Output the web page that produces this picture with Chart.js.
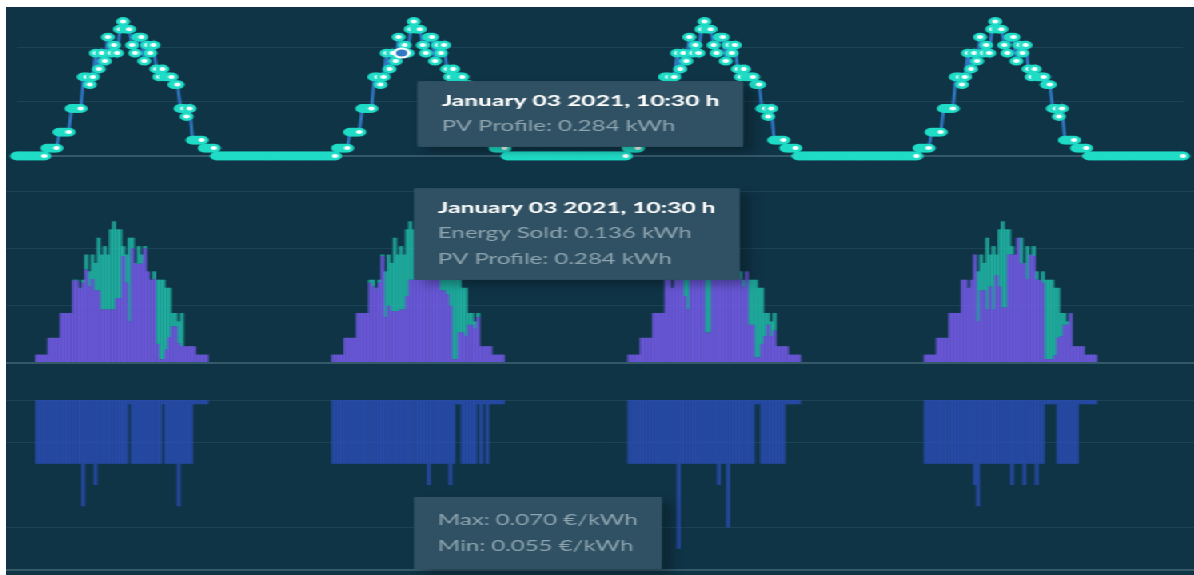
<!DOCTYPE html>
<html>
<head>
<meta charset="utf-8">
<script src="https://cdn.jsdelivr.net/npm/chart.js@4.4.1/dist/chart.umd.min.js"></script>
<style>
    html, body { margin: 0; background: #ffffff; }
    #board { position: absolute; left: 6px; top: 7px; width: 1188px; height: 568px; background: #0f3446; overflow: hidden; }
    /* charts are drawn narrow and stretched sideways to fill the board */
    #inner { position: absolute; left: 0; top: 0; width: 743px; height: 568px; transform: scaleX(1.599); transform-origin: 0 0; }
    canvas { position: absolute; left: 0; }
</style>
</head>
<body>
<div id="board">
    <div id="inner">
        <canvas id="pvChart" width="743" height="159" style="top:0"></canvas>
        <canvas id="soldChart" width="743" height="202" style="top:159px"></canvas>
        <canvas id="priceChart" width="743" height="207" style="top:361px"></canvas>
    </div>
</div>
<script>
const gridLine = '#1b4356';
const baseLine = '#36596a';
const tipBg = '#2f5163';

// 15 min slots, Jan 02 2021 02:45 .. Jan 06 2021 03:00
const slotCount = 386;
const sunriseSlot = 9; // 05:15, counted from 03:00

// PV forecast, 05:15 .. 19:00, same profile every day
const pvDaylight = [
    0.022, 0.022, 0.022, 0.022, 0.066, 0.066, 0.066, 0.066, 0.131, 0.131, 0.131, 0.131,
    0.218, 0.218, 0.197, 0.218, 0.284, 0.240, 0.284, 0.262, 0.328, 0.284, 0.306, 0.284,
    0.350, 0.371, 0.350, 0.350, 0.306, 0.284, 0.328, 0.328, 0.262, 0.306, 0.284, 0.306,
    0.240, 0.218, 0.240, 0.218, 0.218, 0.218, 0.197, 0.197, 0.131, 0.131, 0.109, 0.131,
    0.044, 0.044, 0.044, 0.044, 0.022, 0.022, 0.022, 0.022
];

const soldDay1 = [
    0.022, 0.022, 0.022, 0.022, 0.066, 0.066, 0.066, 0.066, 0.131, 0.131, 0.131, 0.131,
    0.216, 0.216, 0.195, 0.210, 0.245, 0.200, 0.220, 0.190, 0.190, 0.140, 0.140, 0.140,
    0.140, 0.140, 0.170, 0.170, 0.280, 0.210, 0.110, 0.300, 0.260, 0.260, 0.260, 0.300,
    0.240, 0.218, 0.220, 0.050, 0.010, 0.010, 0.035, 0.068, 0.096, 0.096, 0.052, 0.044,
    0.044, 0.044, 0.044, 0.044, 0.022, 0.022, 0.022, 0.022
];
const soldDay2 = [
    0.022, 0.022, 0.022, 0.022, 0.066, 0.066, 0.066, 0.066, 0.131, 0.131, 0.131, 0.131,
    0.210, 0.200, 0.195, 0.210, 0.280, 0.120, 0.150, 0.136, 0.136, 0.136, 0.140, 0.140,
    0.175, 0.218, 0.218, 0.218, 0.280, 0.260, 0.300, 0.300, 0.250, 0.280, 0.280, 0.190,
    0.190, 0.180, 0.150, 0.010, 0.010, 0.080, 0.080, 0.070, 0.100, 0.100, 0.090, 0.120,
    0.044, 0.044, 0.044, 0.044, 0.022, 0.022, 0.022, 0.022
];
const soldDay3 = [
    0.022, 0.022, 0.022, 0.022, 0.066, 0.066, 0.066, 0.066, 0.131, 0.131, 0.131, 0.131,
    0.218, 0.218, 0.197, 0.218, 0.260, 0.240, 0.175, 0.140, 0.300, 0.280, 0.300, 0.280,
    0.320, 0.080, 0.080, 0.330, 0.300, 0.280, 0.320, 0.320, 0.260, 0.300, 0.280, 0.270,
    0.220, 0.200, 0.240, 0.100, 0.100, 0.015, 0.015, 0.050, 0.070, 0.100, 0.070, 0.085,
    0.044, 0.044, 0.044, 0.044, 0.022, 0.022, 0.022, 0.022
];
const soldDay4 = [
    0.022, 0.022, 0.022, 0.022, 0.066, 0.066, 0.066, 0.066, 0.131, 0.131, 0.131, 0.131,
    0.218, 0.218, 0.197, 0.218, 0.284, 0.110, 0.190, 0.190, 0.140, 0.200, 0.140, 0.230,
    0.200, 0.145, 0.145, 0.284, 0.284, 0.284, 0.328, 0.260, 0.262, 0.220, 0.284, 0.280,
    0.218, 0.218, 0.210, 0.010, 0.010, 0.010, 0.020, 0.066, 0.070, 0.100, 0.100, 0.130,
    0.044, 0.044, 0.044, 0.044, 0.022, 0.022, 0.022, 0.022
];

// sell price band: max is flat, min per slot
const priceMax = 0.070;
const minDay1 = [
    0.055, 0.055, 0.055, 0.055, 0.055, 0.055, 0.055, 0.055, 0.055, 0.055, 0.055, 0.055,
    0.055, 0.055, 0.055, 0.045, 0.055, 0.055, 0.055, 0.050, 0.055, 0.055, 0.055, 0.055,
    0.055, 0.055, 0.055, 0.055, 0.055, 0.055, 0.069, 0.055, 0.055, 0.055, 0.055, 0.055,
    0.055, 0.055, 0.055, 0.055, 0.055, 0.069, 0.055, 0.055, 0.055, 0.055, 0.045, 0.055,
    0.055, 0.055, 0.055, 0.069, 0.069, 0.069, 0.069, 0.069
];
const minDay2 = [
    0.055, 0.055, 0.055, 0.055, 0.055, 0.055, 0.055, 0.055, 0.055, 0.055, 0.055, 0.055,
    0.055, 0.055, 0.055, 0.055, 0.055, 0.055, 0.055, 0.055, 0.055, 0.055, 0.055, 0.055,
    0.055, 0.055, 0.055, 0.055, 0.055, 0.055, 0.055, 0.050, 0.055, 0.055, 0.055, 0.055,
    0.055, 0.055, 0.050, 0.055, 0.069, 0.069, 0.055, 0.055, 0.055, 0.055, 0.055, 0.069,
    0.055, 0.069, 0.055, 0.069, 0.069, 0.069, 0.069, 0.069
];
const minDay3 = [
    0.055, 0.055, 0.055, 0.055, 0.055, 0.055, 0.055, 0.055, 0.055, 0.055, 0.055, 0.055,
    0.055, 0.055, 0.055, 0.055, 0.035, 0.055, 0.055, 0.055, 0.055, 0.055, 0.055, 0.055,
    0.055, 0.055, 0.055, 0.055, 0.055, 0.050, 0.055, 0.055, 0.040, 0.055, 0.055, 0.055,
    0.055, 0.055, 0.055, 0.055, 0.055, 0.069, 0.069, 0.055, 0.055, 0.055, 0.055, 0.055,
    0.055, 0.055, 0.055, 0.069, 0.069, 0.069, 0.069, 0.069
];
const minDay4 = [
    0.055, 0.055, 0.055, 0.055, 0.055, 0.055, 0.055, 0.055, 0.055, 0.055, 0.055, 0.055,
    0.055, 0.055, 0.055, 0.055, 0.050, 0.045, 0.055, 0.055, 0.055, 0.055, 0.055, 0.055,
    0.055, 0.055, 0.055, 0.055, 0.050, 0.055, 0.055, 0.055, 0.050, 0.055, 0.055, 0.055,
    0.050, 0.055, 0.055, 0.069, 0.069, 0.069, 0.069, 0.055, 0.055, 0.055, 0.055, 0.055,
    0.055, 0.055, 0.069, 0.069, 0.069, 0.069, 0.069, 0.069
];

const pvTicks = [0, 0.15, 0.30];
const soldTicks = [0, 0.15, 0.30, 0.45];
const priceTicks = [0.03, 0.04, 0.06, 0.07];

const labels = [];
for (let k = 0; k < slotCount; k++) {
    const m = 2 * 60 + 45 + 15 * k;
    const day = 2 + Math.floor(m / 1440);
    const t = m % 1440;
    const hh = String(Math.floor(t / 60)).padStart(2, '0');
    const mm = String(t % 60).padStart(2, '0');
    labels.push('January ' + String(day).padStart(2, '0') + ' 2021, ' + hh + ':' + mm + ' h');
}

// place a daylight array into the 4-day slot list
function slots(days, night) {
    const out = [night];
    days.forEach(vals => {
        for (let i = 0; i < 96; i++) {
            const j = i - sunriseSlot;
            out.push(j >= 0 && j < vals.length ? vals[j] : night);
        }
    });
    out.push(night);
    return out;
}

const pv = slots([pvDaylight, pvDaylight, pvDaylight, pvDaylight], 0);
const sold = slots([soldDay1, soldDay2, soldDay3, soldDay4], 0);
const pvRest = pv.map((v, i) => Math.max(0, +(v - sold[i]).toFixed(3)));
const priceLow = slots([minDay1, minDay2, minDay3, minDay4], null);
const priceBand = priceLow.map(v => v === null ? null : [v, priceMax]);

Chart.defaults.font.family = 'Lato, "Noto Sans", sans-serif';
Chart.defaults.animation = false;

const tipY = { pvChart: 107, soldChart: 68, priceChart: 165 };
Chart.Tooltip.positioners.beside = function (items) {
    if (!items.length) return false;
    return { x: items[0].element.x, y: tipY[this.chart.canvas.id], xAlign: 'left', yAlign: 'center' };
};

const tipShadow = {
    id: 'tipShadow',
    beforeTooltipDraw(chart, args) {
        const t = args.tooltip;
        if (!t.opacity) return;
        const c = chart.ctx;
        c.save();
        c.shadowColor = 'rgba(0,0,0,0.28)';
        c.shadowBlur = 8;
        c.shadowOffsetX = 6;
        c.shadowOffsetY = 5;
        c.fillStyle = tipBg;
        c.fillRect(t.x, t.y, t.width, t.height);
        c.restore();
    }
};

function tip(extra) {
    return Object.assign({
        position: 'beside',
        displayColors: false,
        backgroundColor: tipBg,
        titleColor: '#ffffff',
        bodyColor: '#8ea4af',
        titleFont: { family: 'Lato', size: 15.4, weight: 'bold' },
        bodyFont: { family: 'Lato', size: 15 },
        titleMarginBottom: 6,
        bodySpacing: 8,
        padding: { top: 11, bottom: 12, left: 15, right: 15 },
        cornerRadius: 3,
        caretSize: 0,
        caretPadding: 10
    }, extra);
}

function yAxis(min, max, ticks, stacked) {
    return {
        min, max, stacked: !!stacked,
        afterBuildTicks: s => { s.ticks = ticks.map(v => ({ value: v })); },
        ticks: { display: false },
        border: { display: false },
        grid: {
            drawTicks: false,
            color: c => c.index === 0 ? baseLine : gridLine,
            lineWidth: c => c.index === 0 ? 2 : 1
        }
    };
}

const xAxis = { display: false, offset: false, stacked: true };
const kwh = v => v.toFixed(3) + ' kWh';
const purple = 'rgba(128,96,250,0.68)';
const teal = 'rgba(36,200,178,0.68)';
const blue = 'rgba(46,80,192,0.66)';

const pvChart = new Chart(document.getElementById('pvChart'), {
    type: 'line',
    data: {
        labels,
        datasets: [{
            label: 'PV Profile', data: pv,
            borderColor: '#2f78c4', borderWidth: 2, tension: 0,
            pointRadius: 3.2, pointBorderWidth: 2.4,
            pointBackgroundColor: '#ffffff', pointBorderColor: '#1fdcc6',
            pointHoverRadius: 4.5, pointHoverBorderWidth: 2,
            pointHoverBackgroundColor: '#2f78c4', pointHoverBorderColor: '#ffffff',
            clip: false
        }]
    },
    options: {
        responsive: false,
        layout: { padding: { top: 0, bottom: 10 } },
        plugins: {
            legend: { display: false },
            tooltip: tip({ callbacks: { label: c => 'PV Profile: ' + kwh(c.parsed.y) } })
        },
        scales: { x: xAxis, y: yAxis(0, 0.392, pvTicks) }
    },
    plugins: [tipShadow]
});

const soldChart = new Chart(document.getElementById('soldChart'), {
    type: 'bar',
    data: {
        labels,
        datasets: [
            { label: 'Energy Sold', data: sold, backgroundColor: purple, hoverBackgroundColor: purple, barPercentage: 1.4, categoryPercentage: 1 },
            { label: 'PV Profile', data: pvRest, backgroundColor: teal, hoverBackgroundColor: teal, barPercentage: 1.4, categoryPercentage: 1 }
        ]
    },
    options: {
        responsive: false,
        layout: { padding: { top: 6, bottom: 5 } },
        plugins: {
            legend: { display: false },
            tooltip: tip({
                mode: 'index', intersect: false,
                callbacks: {
                    label: c => c.datasetIndex === 0
                        ? 'Energy Sold: ' + kwh(sold[c.dataIndex])
                        : 'PV Profile: ' + kwh(pv[c.dataIndex])
                }
            })
        },
        scales: { x: xAxis, y: yAxis(0, 0.5, soldTicks, true) }
    },
    plugins: [tipShadow]
});

const priceChart = new Chart(document.getElementById('priceChart'), {
    type: 'bar',
    data: {
        labels,
        datasets: [
            { label: 'Price', data: priceBand, backgroundColor: blue, hoverBackgroundColor: blue, barPercentage: 1.4, categoryPercentage: 1 }
        ]
    },
    options: {
        responsive: false,
        layout: { padding: { top: 4, bottom: 5 } },
        plugins: {
            legend: { display: false },
            tooltip: tip({
                padding: { top: 14, bottom: 14, left: 15, right: 15 },
                callbacks: {
                    title: () => '',
                    label: c => ['Max: ' + c.raw[1].toFixed(3) + ' €/kWh', 'Min: ' + c.raw[0].toFixed(3) + ' €/kWh']
                }
            })
        },
        scales: { x: xAxis, y: yAxis(0.03, 0.0766, priceTicks) }
    },
    plugins: [tipShadow]
});

// slot shown in the tooltips
const focus = labels.indexOf('January 03 2021, 10:30 h');

pvChart.setActiveElements([{ datasetIndex: 0, index: focus }]);
pvChart.tooltip.setActiveElements([{ datasetIndex: 0, index: focus }], { x: 0, y: 0 });
pvChart.update();

soldChart.tooltip.setActiveElements([{ datasetIndex: 0, index: focus }, { datasetIndex: 1, index: focus }], { x: 0, y: 0 });
soldChart.update();

priceChart.tooltip.setActiveElements([{ datasetIndex: 0, index: focus }], { x: 0, y: 0 });
priceChart.update();
</script>
</body>
</html>
